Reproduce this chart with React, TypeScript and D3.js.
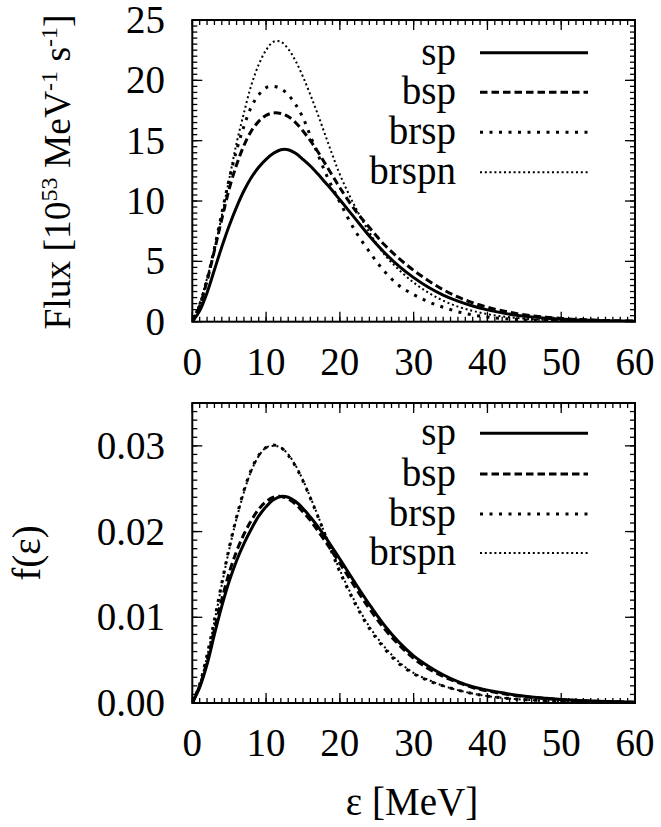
import React from "react";
import * as d3 from "d3";

// Energy grid (MeV)
const energy = [0,1,2,3,4,5,6,7,8,9,10,11,12,13,14,15,16,17,18,19,20,22,24,26,28,30,32,34,36,38,40,42,44,46,48,50,52,54,56,58,60];

// Top panel: Flux [10^53 MeV^-1 s^-1]
const fluxSp = [0,0.9,2.4,4.3,6.2,7.95,9.5,10.85,11.95,12.8,13.45,13.95,14.25,14.25,13.95,13.45,12.9,12.25,11.55,10.85,10.1,8.6,7.1,5.75,4.6,3.65,2.85,2.2,1.7,1.3,0.98,0.73,0.54,0.4,0.29,0.21,0.15,0.11,0.08,0.06,0.04];
const fluxBsp = [0,1.3,3.4,5.9,8.5,11.0,13.0,14.6,15.8,16.6,17.1,17.3,17.25,17.0,16.5,15.8,15.0,14.1,13.1,12.1,11.1,9.3,7.8,6.4,5.25,4.25,3.4,2.65,2.05,1.57,1.2,0.9,0.67,0.5,0.37,0.27,0.19,0.14,0.1,0.07,0.05];
const fluxBrsp = [0,1.4,3.5,6.1,9.0,11.8,14.2,16.2,17.8,18.8,19.4,19.5,19.3,18.8,18.0,16.9,15.4,13.9,12.4,11.1,9.9,7.6,5.8,4.2,3.0,2.25,1.65,1.2,0.82,0.56,0.39,0.27,0.19,0.13,0.09,0.06,0.045,0.03,0.02,0.015,0.01];
const fluxBrspn = [0,1.5,3.6,5.9,8.8,11.8,14.8,17.3,19.6,21.3,22.5,23.2,23.2,22.6,21.6,20.3,18.8,17.2,15.5,13.8,12.2,9.6,7.4,5.6,4.3,3.25,2.4,1.75,1.25,0.9,0.63,0.44,0.31,0.21,0.15,0.1,0.07,0.05,0.035,0.025,0.017];

// Bottom panel: f(eps)
const fSp = [0,0.0018,0.0045,0.0080,0.0113,0.0142,0.0166,0.0186,0.0203,0.0218,0.0229,0.0237,0.0241,0.0240,0.0235,0.0227,0.0217,0.0206,0.0194,0.0181,0.0168,0.0141,0.0115,0.0091,0.0071,0.0055,0.0043,0.0033,0.0025,0.0019,0.0015,0.0012,0.0009,0.0007,0.00055,0.00042,0.00032,0.00024,0.00018,0.00014,0.0001];
const fBsp = [0,0.0020,0.0049,0.0086,0.0121,0.0152,0.0177,0.0197,0.0213,0.0226,0.0235,0.0240,0.0241,0.0238,0.0232,0.0223,0.0213,0.0201,0.0189,0.0176,0.0163,0.0136,0.0110,0.0087,0.0068,0.0052,0.0040,0.0031,0.0024,0.0018,0.0014,0.0011,0.00085,0.00065,0.0005,0.00038,0.00029,0.00022,0.00017,0.00013,0.0001];
const fBrsp = [0,0.0022,0.0056,0.0097,0.0140,0.0181,0.0217,0.0248,0.0272,0.0289,0.0298,0.0301,0.0298,0.0289,0.0276,0.0259,0.0239,0.0218,0.0196,0.0174,0.0153,0.0117,0.0087,0.0064,0.0046,0.0034,0.0026,0.0020,0.0015,0.0011,0.0008,0.0006,0.00045,0.00034,0.00025,0.00019,0.00014,0.0001,0.00008,0.00006,0.00004];
const fBrspn = [0,0.0021,0.0054,0.0095,0.0138,0.0179,0.0215,0.0246,0.0271,0.0288,0.0298,0.0300,0.0298,0.0290,0.0277,0.0260,0.0240,0.0219,0.0197,0.0176,0.0155,0.0119,0.0089,0.0066,0.0048,0.0035,0.0027,0.0020,0.0015,0.0011,0.0008,0.0006,0.00045,0.00034,0.00025,0.00019,0.00014,0.0001,0.00008,0.00006,0.00004];

const seriesNames = ["sp", "bsp", "brsp", "brspn"];
const xTicks = [0,10,20,30,40,50,60];
const fluxTicks = [0,5,10,15,20,25];
const fTicks = [0,0.01,0.02,0.03];

const styles = [
  { dash: "none", width: 3 },
  { dash: "7.5,4", width: 3 },
  { dash: "3,6.5", width: 3 },
  { dash: "2,2.8", width: 2 },
];

const FONT = "Liberation Serif, serif";
const FS = 39;
const fontStyle = { fontFamily: FONT, fontSize: FS };

const X0 = 192.3, X1 = 635;

function Panel({ top, bottom, ymax, yMajor, yMinorStep, series, fmt, legendYs, clipId }) {
  const x = d3.scaleLinear().domain([0, 60]).range([X0, X1]);
  const y = d3.scaleLinear().domain([0, ymax]).range([bottom, top]);
  const line = d3.line<number>()
    .x((_, i) => x(energy[i]))
    .y((d) => y(d))
    .curve(d3.curveCatmullRom.alpha(0.5));
  const xMinor = d3.range(0, 60.001, 1);
  const yMinor = d3.range(0, ymax + 1e-9, yMinorStep);
  const MAJ = 10, MIN = 5;
  return (
    <g>
      <defs>
        <clipPath id={clipId}>
          <rect x={X0} y={top} width={X1 - X0} height={bottom - top} />
        </clipPath>
      </defs>
      <g stroke="#000" strokeWidth={1.3}>
        {xMinor.map((v, i) => (
          <g key={"xm" + i}>
            <line x1={x(v)} x2={x(v)} y1={bottom} y2={bottom - MIN} />
            <line x1={x(v)} x2={x(v)} y1={top} y2={top + MIN} />
          </g>
        ))}
        {yMinor.map((v, i) => (
          <g key={"ym" + i}>
            <line x1={X0} x2={X0 + MIN} y1={y(v)} y2={y(v)} />
            <line x1={X1} x2={X1 - MIN} y1={y(v)} y2={y(v)} />
          </g>
        ))}
        {xTicks.map((v, i) => (
          <g key={"xM" + i}>
            <line x1={x(v)} x2={x(v)} y1={bottom} y2={bottom - MAJ} />
            <line x1={x(v)} x2={x(v)} y1={top} y2={top + MAJ} />
          </g>
        ))}
        {yMajor.map((v, i) => (
          <g key={"yM" + i}>
            <line x1={X0} x2={X0 + MAJ} y1={y(v)} y2={y(v)} />
            <line x1={X1} x2={X1 - MAJ} y1={y(v)} y2={y(v)} />
          </g>
        ))}
      </g>
      <g style={fontStyle} fill="#000">
        {xTicks.map((v, i) => (
          <text key={"xl" + i} x={x(v)} y={bottom + 53} textAnchor="middle">{v}</text>
        ))}
        {yMajor.map((v, i) => (
          <text key={"yl" + i} x={165} y={y(v) + 13} textAnchor="end">{fmt(v)}</text>
        ))}
      </g>
      <g clipPath={`url(#${clipId})`} fill="none" stroke="#000" strokeLinejoin="round">
        {series.map((s, i) => (
          <path key={"c" + i} d={line(s) || ""} strokeWidth={styles[i].width}
            strokeDasharray={styles[i].dash === "none" ? undefined : styles[i].dash} />
        ))}
      </g>
      <g style={fontStyle} fill="#000">
        {seriesNames.map((n, i) => (
          <g key={"lg" + i}>
            <text x={456} y={legendYs[i] + 12} textAnchor="end">{n}</text>
            <line x1={480} x2={588} y1={legendYs[i]} y2={legendYs[i]} stroke="#000"
              strokeWidth={styles[i].width}
              strokeDasharray={styles[i].dash === "none" ? undefined : styles[i].dash} />
          </g>
        ))}
      </g>
      <rect x={X0} y={top} width={X1 - X0} height={bottom - top} fill="none" stroke="#000" strokeWidth={2} />
    </g>
  );
}

export default function App() {
  const fmtFlux = (v: number) => String(v);
  const fmtF = d3.format(".2f");
  return (
    <svg width={661} height={827} style={{ position: "absolute", left: 0, top: 0, background: "#fff" }}>
      <rect x={0} y={0} width={661} height={827} fill="#fff" />
      <Panel top={20} bottom={321.7} ymax={25} yMajor={fluxTicks} yMinorStep={0.5}
        series={[fluxSp, fluxBsp, fluxBrsp, fluxBrspn]} fmt={fmtFlux}
        legendYs={[52.7, 92.3, 132.3, 172.3]} clipId="clipTop" />
      <Panel top={403} bottom={703} ymax={0.035} yMajor={fTicks} yMinorStep={0.001}
        series={[fSp, fBsp, fBrsp, fBrspn]} fmt={fmtF}
        legendYs={[433.3, 474, 514, 553]} clipId="clipBot" />
      <g style={fontStyle} fill="#000">
        <text transform="translate(70,172) rotate(-90)" textAnchor="middle" style={{ fontSize: 37.5 }}>
          Flux [10<tspan dy={-13} style={{ fontSize: 24 }}>53</tspan><tspan dy={13}> MeV</tspan><tspan dy={-13} style={{ fontSize: 24 }}>-1</tspan><tspan dy={13}> s</tspan><tspan dy={-13} style={{ fontSize: 24 }}>-1</tspan><tspan dy={13}>]</tspan>
        </text>
        <text transform="translate(40,553) rotate(-90)" textAnchor="middle">f(ε)</text>
        <text x={412} y={815} textAnchor="middle">ε [MeV]</text>
      </g>
    </svg>
  );
}
